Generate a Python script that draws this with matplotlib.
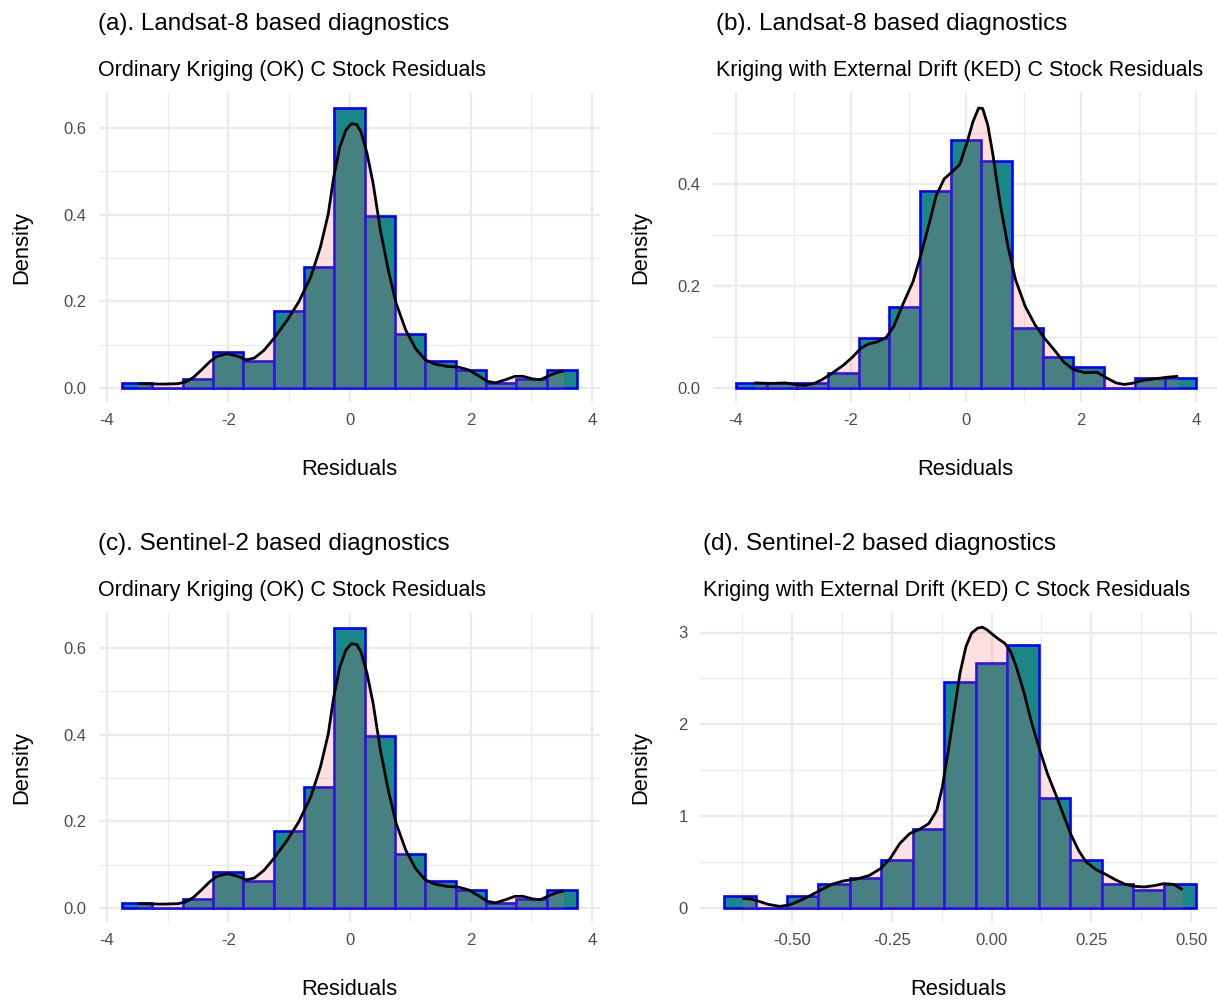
import numpy as np
import matplotlib
matplotlib.use("Agg")
import matplotlib.pyplot as plt

plt.rcParams['font.family'] = ['Liberation Sans', 'DejaVu Sans']
plt.rcParams['axes.unicode_minus'] = False

# ---------------- DATA ----------------
# Panel (a) / (c): Ordinary Kriging residuals
ok_edges = [-3.75, -3.25, -2.75, -2.25, -1.75, -1.25, -0.75, -0.25,
            0.25, 0.75, 1.25, 1.75, 2.25, 2.75, 3.25, 3.75]
ok_density = [0.0105, 0.0, 0.021, 0.083, 0.062, 0.178, 0.280, 0.647,
              0.397, 0.125, 0.062, 0.042, 0.0105, 0.021, 0.042]
ok_kde_x = [-3.49, -3.08, -2.83, -2.70, -2.57, -2.44, -2.31, -2.19, -2.02, -1.86,
            -1.70, -1.57, -1.41, -1.25, -1.03, -0.84, -0.64, -0.48, -0.35, -0.26,
            -0.16, -0.06, 0.03, 0.12, 0.19, 0.29, 0.39, 0.51, 0.64, 0.77,
            0.93, 1.09, 1.25, 1.41, 1.61, 1.80, 1.96, 2.12, 2.28, 2.41,
            2.57, 2.73, 2.86, 3.02, 3.15, 3.28, 3.41, 3.53]
ok_kde_y = [0.010, 0.009, 0.010, 0.014, 0.025, 0.042, 0.060, 0.073, 0.079, 0.074,
            0.065, 0.069, 0.087, 0.114, 0.156, 0.198, 0.256, 0.325, 0.402, 0.487,
            0.556, 0.595, 0.610, 0.608, 0.591, 0.541, 0.472, 0.364, 0.272, 0.195,
            0.133, 0.091, 0.065, 0.055, 0.050, 0.048, 0.042, 0.029, 0.015, 0.012,
            0.019, 0.027, 0.027, 0.021, 0.019, 0.028, 0.035, 0.039]

# Panel (b): KED residuals, Landsat-8
ked_l8_edges = [-4.0, -3.467, -2.933, -2.4, -1.867, -1.333, -0.8, -0.267,
                0.267, 0.8, 1.333, 1.867, 2.4, 2.933, 3.467, 4.0]
ked_l8_density = [0.0099, 0.0099, 0.0099, 0.030, 0.099, 0.159, 0.386, 0.487,
                  0.446, 0.118, 0.060, 0.041, 0.0, 0.020, 0.020]
ked_l8_kde_x = [-3.68, -3.38, -3.14, -2.98, -2.81, -2.64, -2.51, -2.34, -2.13, -1.97,
                -1.83, -1.70, -1.53, -1.39, -1.26, -1.09, -0.92, -0.79, -0.65, -0.52,
                -0.38, -0.25, -0.11, 0.02, 0.12, 0.22, 0.29, 0.38, 0.47, 0.59,
                0.73, 0.86, 1.03, 1.20, 1.37, 1.54, 1.70, 1.87, 2.07, 2.28,
                2.44, 2.61, 2.75, 2.88, 3.08, 3.29, 3.49, 3.69]
ked_l8_kde_y = [0.010, 0.009, 0.010, 0.007, 0.005, 0.009, 0.016, 0.028, 0.045, 0.061,
                0.078, 0.086, 0.091, 0.099, 0.120, 0.166, 0.209, 0.259, 0.318, 0.377,
                0.410, 0.423, 0.438, 0.482, 0.522, 0.549, 0.548, 0.515, 0.456, 0.364,
                0.278, 0.213, 0.160, 0.124, 0.097, 0.074, 0.051, 0.036, 0.030, 0.031,
                0.020, 0.010, 0.007, 0.009, 0.015, 0.018, 0.021, 0.023]

# Panel (d): KED residuals, Sentinel-2
ked_s2_edges = [-0.670, -0.591, -0.512, -0.434, -0.355, -0.276, -0.197, -0.118,
                -0.040, 0.039, 0.118, 0.197, 0.276, 0.355, 0.433, 0.512]
ked_s2_density = [0.127, 0.0, 0.127, 0.258, 0.327, 0.527, 0.865, 2.465,
                  2.673, 2.865, 1.193, 0.527, 0.258, 0.193, 0.258]
ked_s2_kde_x = [-0.624, -0.604, -0.585, -0.560, -0.531, -0.507, -0.482, -0.458, -0.429,
                -0.400, -0.371, -0.337, -0.307, -0.278, -0.254, -0.230, -0.205, -0.181,
                -0.157, -0.137, -0.123, -0.108, -0.093, -0.079, -0.064, -0.050, -0.035,
                -0.023, -0.011, 0.004, 0.018, 0.033, 0.048, 0.062, 0.082, 0.101,
                0.121, 0.140, 0.160, 0.179, 0.198, 0.218, 0.237, 0.262, 0.286,
                0.310, 0.335, 0.359, 0.383, 0.408, 0.432, 0.456, 0.479]
ked_s2_kde_y = [0.102, 0.098, 0.076, 0.040, 0.018, 0.033, 0.076, 0.127, 0.193,
                0.258, 0.295, 0.316, 0.353, 0.429, 0.538, 0.702, 0.811, 0.855,
                0.920, 1.065, 1.320, 1.720, 2.156, 2.556, 2.847, 2.993, 3.047,
                3.058, 3.029, 2.975, 2.927, 2.884, 2.793, 2.629, 2.338, 2.011,
                1.720, 1.465, 1.247, 1.029, 0.811, 0.629, 0.502, 0.418, 0.367,
                0.309, 0.258, 0.236, 0.229, 0.244, 0.265, 0.258, 0.200]

titles = ["(a). Landsat-8 based diagnostics", "(b). Landsat-8 based diagnostics",
          "(c). Sentinel-2 based diagnostics", "(d). Sentinel-2 based diagnostics"]
subtitles = ["Ordinary Kriging (OK) C Stock Residuals",
             "Kriging with External Drift (KED) C Stock Residuals",
             "Ordinary Kriging (OK) C Stock Residuals",
             "Kriging with External Drift (KED) C Stock Residuals"]
x_label = "Residuals"
y_label = "Density"

xt_wide = [-4, -2, 0, 2, 4]
xt_wide_labels = ["-4", "-2", "0", "2", "4"]
xt_s2 = [-0.50, -0.25, 0.00, 0.25, 0.50]
xt_s2_labels = ["-0.50", "-0.25", "0.00", "0.25", "0.50"]
yt_ok = [0.0, 0.2, 0.4, 0.6]
yt_ok_labels = ["0.0", "0.2", "0.4", "0.6"]
yt_l8 = [0.0, 0.2, 0.4]
yt_l8_labels = ["0.0", "0.2", "0.4"]
yt_s2 = [0, 1, 2, 3]
yt_s2_labels = ["0", "1", "2", "3"]

# ---------------- STYLE / LAYOUT ----------------
W, H = 1217, 1000
fig = plt.figure(figsize=(W / 100, H / 100), dpi=100)
fig.patch.set_facecolor("white")

BAR_FILL = "#1A8787"
BAR_EDGE = "#0000FF"
KDE_FILL = "#FF6666"
GRID = "#EBEBEB"
TICK_COL = "#4D4D4D"


def lim_from_anchor(p0, v0, p1, v1, pa, pb):
    s = (v1 - v0) / (p1 - p0)
    return v0 + (pa - p0) * s, v0 + (pb - p0) * s


def ftext(x, y, s, **kw):
    fig.text(x / W, 1 - y / H, s, **kw)


panels = [
    dict(box=(99, 600, 93, 402), xa=(107, -4, 592, 4), ya=(388, 0, 128, 0.6),
         edges=ok_edges, dens=ok_density, kx=ok_kde_x, ky=ok_kde_y,
         xt=xt_wide, xtl=xt_wide_labels, yt=yt_ok, ytl=yt_ok_labels,
         xminor=[-3, -1, 1, 3], yminor=[0.1, 0.3, 0.5],
         title_x=98, title_y=30, ylab_x=22),
    dict(box=(713, 1217, 92, 402), xa=(736, -4, 1196, 4), ya=(388, 0, 184, 0.4),
         edges=ked_l8_edges, dens=ked_l8_density, kx=ked_l8_kde_x, ky=ked_l8_kde_y,
         xt=xt_wide, xtl=xt_wide_labels, yt=yt_l8, ytl=yt_l8_labels,
         xminor=[-3, -1, 1, 3], yminor=[0.1, 0.3, 0.5],
         title_x=716, title_y=30, ylab_x=641),
    dict(box=(99, 600, 613, 922), xa=(107, -4, 592, 4), ya=(908, 0, 648, 0.6),
         edges=ok_edges, dens=ok_density, kx=ok_kde_x, ky=ok_kde_y,
         xt=xt_wide, xtl=xt_wide_labels, yt=yt_ok, ytl=yt_ok_labels,
         xminor=[-3, -1, 1, 3], yminor=[0.1, 0.3, 0.5],
         title_x=98, title_y=550, ylab_x=22),
    dict(box=(700, 1217, 613, 922), xa=(792, -0.5, 1191, 0.5), ya=(908, 0, 632.5, 3),
         edges=ked_s2_edges, dens=ked_s2_density, kx=ked_s2_kde_x, ky=ked_s2_kde_y,
         xt=xt_s2, xtl=xt_s2_labels, yt=yt_s2, ytl=yt_s2_labels,
         xminor=[-0.625, -0.375, -0.125, 0.125, 0.375], yminor=[0.5, 1.5, 2.5],
         title_x=703, title_y=550, ylab_x=641),
]

for i, p in enumerate(panels):
    l, r, t, b = p["box"]
    ax = fig.add_axes([l / W, 1 - b / H, (r - l) / W, (b - t) / H])
    ax.set_facecolor("white")
    for sp in ax.spines.values():
        sp.set_visible(False)

    xlo, xhi = lim_from_anchor(p["xa"][0], p["xa"][1], p["xa"][2], p["xa"][3], l, r)
    ylo, yhi = lim_from_anchor(p["ya"][0], p["ya"][1], p["ya"][2], p["ya"][3], b, t)
    ax.set_xlim(xlo, xhi)
    ax.set_ylim(ylo, yhi)

    for xv in p["xminor"]:
        ax.axvline(xv, color=GRID, lw=0.9, zorder=0)
    for yv in p["yminor"]:
        ax.axhline(yv, color=GRID, lw=0.9, zorder=0)
    for xv in p["xt"]:
        ax.axvline(xv, color=GRID, lw=1.6, zorder=0)
    for yv in p["yt"]:
        ax.axhline(yv, color=GRID, lw=1.6, zorder=0)

    edges = np.array(p["edges"])
    widths = np.diff(edges)
    ax.bar(edges[:-1], p["dens"], width=widths, align="edge",
           color=BAR_FILL, edgecolor=BAR_EDGE, linewidth=1.9, zorder=2)

    ax.fill_between(p["kx"], p["ky"], 0, color=KDE_FILL, alpha=0.2,
                    linewidth=0, zorder=3)
    ax.plot(p["kx"], p["ky"], color="black", lw=2.0, zorder=4,
            solid_capstyle="butt", solid_joinstyle="round")

    ax.set_xticks(p["xt"])
    ax.set_xticklabels(p["xtl"])
    ax.set_yticks(p["yt"])
    ax.set_yticklabels(p["ytl"])
    ax.tick_params(axis="both", length=0, labelsize=12, colors=TICK_COL)
    ax.tick_params(axis="x", pad=8)
    ax.tick_params(axis="y", pad=9)

    ftext(p["title_x"], p["title_y"], titles[i], fontsize=17.5, color="black",
          ha="left", va="baseline")
    ftext(p["title_x"], p["title_y"] + 46, subtitles[i], fontsize=15.5, color="black",
          ha="left", va="baseline")
    ftext((l + r) / 2, b + 73, x_label, fontsize=15.8, color="black",
          ha="center", va="baseline")
    ftext(p["ylab_x"], (t + b) / 2, y_label, fontsize=15.8, color="black",
          ha="center", va="center", rotation=90)

fig.savefig("out.png", dpi=100, facecolor="white")
